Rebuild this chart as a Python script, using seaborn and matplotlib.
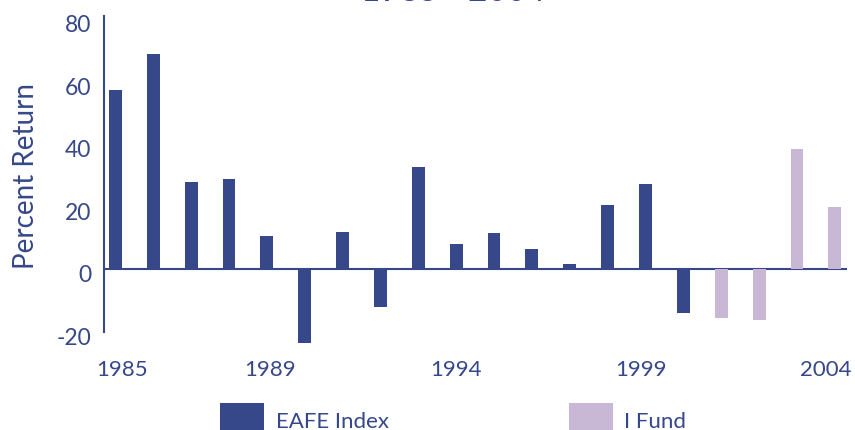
import pandas as pd
import seaborn as sns
import matplotlib.transforms as mtransforms
from matplotlib import pyplot as plt

# values (percent return per year)
years = [str(y) for y in range(1985, 2005)]
returns = [57.2, 68.5, 27.9, 28.8, 10.6, -23.7, 11.7, -12.2, 32.5, 8.0,
           11.5, 6.4, 1.7, 20.4, 27.2, -14.2, -15.8, -16.3, 38.2, 19.9]
funds = ["EAFE Index"] * 16 + ["I Fund"] * 4
tick_years = ["1985", "1989", "1994", "1999", "2004"]
# the year labels sit a little off their bars in the original
tick_shift = [0.17, 0.08, 0.0, -0.11, -0.25]

blue = "#36478a"
lilac = "#c8b8d6"

sns.set_style("white")
plt.rcParams['font.family'] = ['Lato', 'DejaVu Sans']
plt.rcParams['axes.unicode_minus'] = False

df = pd.DataFrame({"Year": years, "Return": returns, "Fund": funds})

# axes spans y = -26 .. 80.8 (0 at pixel row 270, 3.13 px per unit)
fig = plt.figure(figsize=(8.55, 4.31), dpi=100)
ax = fig.add_axes([104 / 855, 1 - 351.5 / 431, 743 / 855, 334.5 / 431])

sns.barplot(data=df, x="Year", y="Return", hue="Fund", dodge=False, width=0.34,
            palette={"EAFE Index": blue, "I Fund": lilac}, saturation=1,
            edgecolor="none", ax=ax)

ax.set_xlim(-0.30, 19.32)
ax.set_ylim(-26.1, 80.8)
ax.axhline(0, color=blue, lw=1.5, zorder=0)

ax.set_yticks([-20, 0, 20, 40, 60, 80])
ax.set_xticks([years.index(y) + s for y, s in zip(tick_years, tick_shift)])
ax.set_xticklabels(tick_years)
ax.tick_params(axis="y", length=0, pad=9, labelsize=16.5, labelcolor=blue)
ax.tick_params(axis="x", length=0, pad=6, labelsize=16, labelcolor=blue)

# y labels hang slightly below their values in the original
shift = mtransforms.ScaledTranslation(0, -4 / 100, fig.dpi_scale_trans)
for lbl in ax.get_yticklabels():
    lbl.set_transform(lbl.get_transform() + shift)

for side in ["top", "right", "bottom"]:
    ax.spines[side].set_visible(False)
ax.spines["left"].set_color(blue)
ax.spines["left"].set_linewidth(1.5)
ax.spines["left"].set_bounds(-20.1, 80.8)

ax.set_xlabel("")
ax.set_ylabel("Percent Return", fontsize=20, color=blue)
ax.yaxis.set_label_coords(-0.088, 0.525)

# title is mostly cropped off the top edge, as in the original
fig.text(453 / 855, 1 - 1 / 431, "1985 - 2004", ha="center", va="baseline",
         fontsize=24, color=blue)

ax.legend(loc="upper left", bbox_to_anchor=(220 / 855, 1 - 404 / 431),
          bbox_transform=fig.transFigure, ncol=2, frameon=False,
          fontsize=16, labelcolor=blue, borderpad=0, borderaxespad=0,
          handlelength=2.0, handleheight=1.9, handletextpad=0.5,
          columnspacing=8.1)

plt.savefig("out.png", dpi=100)
